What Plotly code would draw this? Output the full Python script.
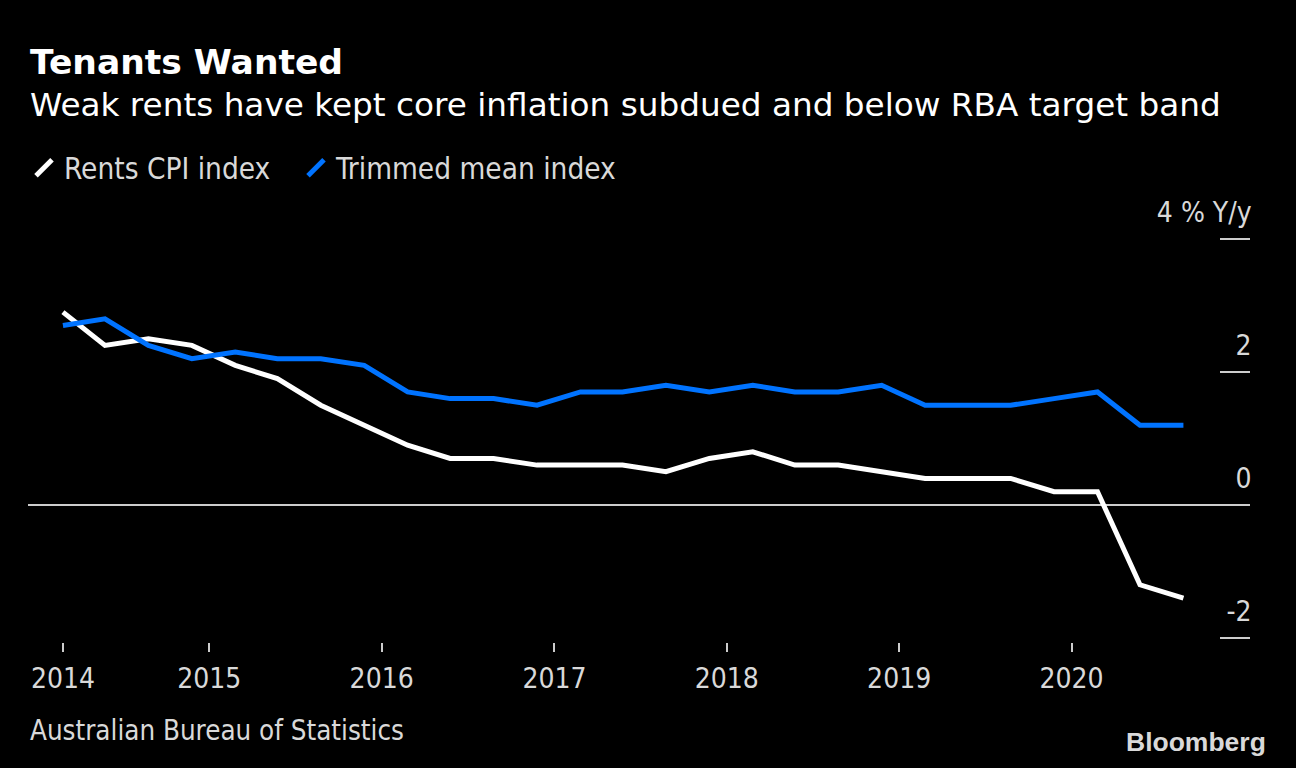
import plotly.graph_objects as go

# ---- data ----
quarters = [
    "2014-02-25", "2014-05-25", "2014-08-25", "2014-11-25",
    "2015-02-25", "2015-05-25", "2015-08-25", "2015-11-25",
    "2016-02-25", "2016-05-25", "2016-08-25", "2016-11-25",
    "2017-02-25", "2017-05-25", "2017-08-25", "2017-11-25",
    "2018-02-25", "2018-05-25", "2018-08-25", "2018-11-25",
    "2019-02-25", "2019-05-25", "2019-08-25", "2019-11-25",
    "2020-02-25", "2020-05-25", "2020-08-25",
]
rents_cpi = [2.9, 2.4, 2.5, 2.4, 2.1, 1.9, 1.5, 1.2, 0.9, 0.7, 0.7, 0.6, 0.6, 0.6,
             0.5, 0.7, 0.8, 0.6, 0.6, 0.5, 0.4, 0.4, 0.4, 0.2, 0.2, -1.2, -1.4]
trimmed_mean = [2.7, 2.8, 2.4, 2.2, 2.3, 2.2, 2.2, 2.1, 1.7, 1.6, 1.6, 1.5, 1.7, 1.7,
                1.8, 1.7, 1.8, 1.7, 1.7, 1.8, 1.5, 1.5, 1.5, 1.6, 1.7, 1.2, 1.2]

x_tick_vals = ["2014-02-25", "2015-01-01", "2016-01-01", "2017-01-01",
               "2018-01-01", "2019-01-01", "2020-01-01"]
x_tick_text = ["2014", "2015", "2016", "2017", "2018", "2019", "2020"]
y_tick_vals = [-2, 0, 2, 4]
y_tick_text = ["-2", "0", "2", "4 % Y/y"]

series_names = ["Rents CPI index", "Trimmed mean index"]
series_colors = ["#ffffff", "#0073ff"]

FONT = "DejaVu Sans"
FONT_C = "DejaVu Sans Condensed, DejaVu Sans"
TXT = "#d9d9d9"
W, H = 1296, 768
M_L, M_R, M_T, M_B = 28, 46, 192, 126
PLOT_W = W - M_L - M_R
PLOT_H = H - M_T - M_B
PX_PER_UNIT = 66.5
ZERO_ROW = 505
Y_MAX = (ZERO_ROW - M_T) / PX_PER_UNIT
Y_MIN = -(H - M_B - ZERO_ROW) / PX_PER_UNIT


def py(pix):
    """convert a pixel row (from top) to paper y"""
    return (H - M_B - pix) / PLOT_H


def px(pix):
    """convert a pixel column (from left) to paper x"""
    return (pix - M_L) / PLOT_W


fig = go.Figure()

legend_ids = ["legend", "legend2"]
legend_left = [24, 296]

for name, vals, col, lid in zip(series_names, [rents_cpi, trimmed_mean],
                                series_colors, legend_ids):
    fig.add_trace(go.Scatter(
        x=quarters, y=vals, mode="lines", name=name,
        line=dict(color=col, width=5), showlegend=False,
    ))
    # legend-only entry with a slanted stroke symbol
    fig.add_trace(go.Scatter(
        x=[None], y=[None], mode="markers", name=name, legend=lid,
        marker=dict(symbol="line-ne", size=16, color=col,
                    line=dict(color=col, width=5)),
        showlegend=True,
    ))

legend_style = dict(
    orientation="h", xanchor="left", y=py(168), yanchor="middle",
    font=dict(size=29.5, color=TXT, family=FONT_C),
    bgcolor="rgba(0,0,0,0)", itemwidth=30,
)

fig.update_layout(
    width=W, height=H,
    paper_bgcolor="#000000", plot_bgcolor="#000000",
    margin=dict(l=M_L, r=M_R, t=M_T, b=M_B),
    font=dict(family=FONT, color=TXT),
    showlegend=True,
    legend=dict(x=px(legend_left[0]), **legend_style),
    legend2=dict(x=px(legend_left[1]), **legend_style),
    xaxis=dict(
        type="date", range=["2013-12-13", "2021-01-13"],
        tickvals=x_tick_vals, ticktext=x_tick_text,
        ticks="outside", ticklen=9, tickwidth=2, tickcolor="#cccccc",
        showgrid=False, showline=False, zeroline=False,
        ticklabelstandoff=2,
        tickfont=dict(size=28, color=TXT, family=FONT_C),
    ),
    yaxis=dict(
        side="right", range=[Y_MIN, Y_MAX],
        tickvals=y_tick_vals, ticktext=y_tick_text,
        ticks="inside", ticklen=30, tickwidth=2, tickcolor="#cccccc",
        showgrid=False, showline=False,
        zeroline=True, zerolinecolor="#cccccc", zerolinewidth=1.5,
        ticklabelposition="inside", ticklabelshift=-27, ticklabelstandoff=-29,
        tickfont=dict(size=28, color=TXT, family=FONT_C),
    ),
    annotations=[
        dict(text="<b>Tenants Wanted</b>", x=px(28), xref="paper", xanchor="left",
             y=py(62), yref="paper", yanchor="middle", showarrow=False,
             font=dict(size=34.5, color="#ffffff", family=FONT)),
        dict(text="Weak rents have kept core inflation subdued and below RBA target band",
             x=px(28), xref="paper", xanchor="left",
             y=py(105), yref="paper", yanchor="middle", showarrow=False,
             font=dict(size=32.7, color="#ffffff", family=FONT)),
        dict(text="Australian Bureau of Statistics", x=px(28), xref="paper", xanchor="left",
             y=py(730), yref="paper", yanchor="middle", showarrow=False,
             font=dict(size=27.5, color=TXT, family=FONT_C)),
        dict(text="<b>Bloomberg</b>", x=px(1268), xref="paper", xanchor="right",
             y=py(742), yref="paper", yanchor="middle", showarrow=False,
             font=dict(size=26.5, color=TXT, family="Liberation Sans")),
    ],
)

fig.write_html("out.html", config={"displayModeBar": False},
               post_script="document.body.style.margin='0px';")
